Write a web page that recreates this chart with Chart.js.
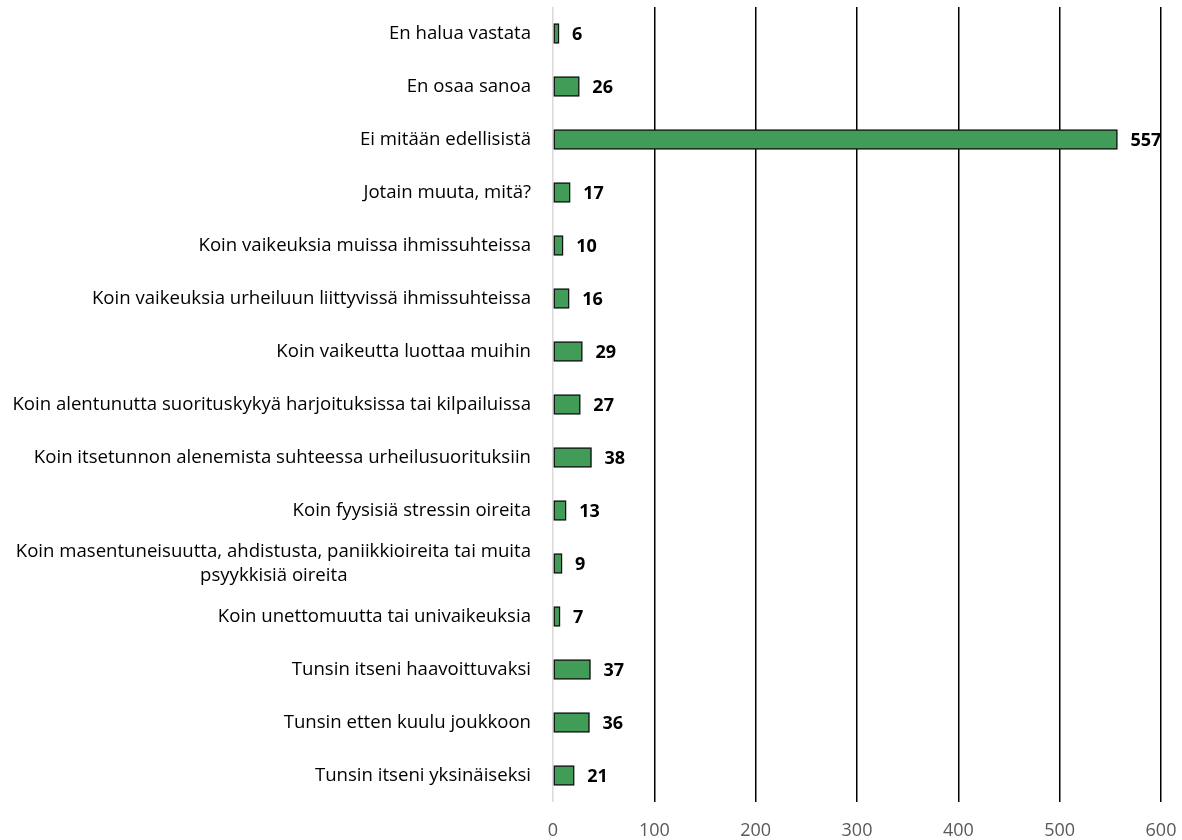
<!DOCTYPE html>
<html>
<head>
<meta charset="utf-8">
<script src="https://cdn.jsdelivr.net/npm/chart.js@4.4.1/dist/chart.umd.min.js"></script>
<style>
    html, body { margin: 0; padding: 0; background: #ffffff; }
    #wrap { width: 1182px; height: 840px; position: relative; }
</style>
</head>
<body>
<div id="wrap"><canvas id="answersChart"></canvas></div>
<script>
const categories = [
    "En halua vastata",
    "En osaa sanoa",
    "Ei mitään edellisistä",
    "Jotain muuta, mitä?",
    "Koin vaikeuksia muissa ihmissuhteissa",
    "Koin vaikeuksia urheiluun liittyvissä ihmissuhteissa",
    "Koin vaikeutta luottaa muihin",
    "Koin alentunutta suorituskykyä harjoituksissa tai kilpailuissa",
    "Koin itsetunnon alenemista suhteessa urheilusuorituksiin",
    "Koin fyysisiä stressin oireita",
    ["Koin masentuneisuutta, ahdistusta, paniikkioireita tai muita", "psyykkisiä oireita"],
    "Koin unettomuutta tai univaikeuksia",
    "Tunsin itseni haavoittuvaksi",
    "Tunsin etten kuulu joukkoon",
    "Tunsin itseni yksinäiseksi"
];
const counts = [6, 26, 557, 17, 10, 16, 29, 27, 38, 13, 9, 7, 37, 36, 21];
const xTicks = [0, 100, 200, 300, 400, 500, 600];

const FONT = "'Open Sans', sans-serif";
const LABEL_SIZE = 18.6;

// wrapped labels: pad the second line so it sits centred under the first (as in Excel)
const measureCtx = document.createElement("canvas").getContext("2d");
measureCtx.font = LABEL_SIZE + "px " + FONT;
const yLabels = categories.map(function (lab) {
    if (!Array.isArray(lab)) return lab;
    const w0 = measureCtx.measureText(lab[0]).width;
    const sp = measureCtx.measureText(" ").width;
    return lab.map(function (line, i) {
        if (i === 0) return line;
        const shift = (w0 - measureCtx.measureText(line).width) / 2;
        return line + " ".repeat(Math.max(0, Math.round(shift / sp)));
    });
});

// bold value next to each bar
const valueLabels = {
    id: "valueLabels",
    afterDatasetsDraw(chart) {
        const ctx = chart.ctx;
        const meta = chart.getDatasetMeta(0);
        ctx.save();
        ctx.font = "bold 18px " + FONT;
        ctx.fillStyle = "#000000";
        ctx.textAlign = "left";
        ctx.textBaseline = "middle";
        meta.data.forEach(function (bar, i) {
            ctx.fillText(String(counts[i]), bar.x + 13, bar.y + 1);
        });
        ctx.restore();
    }
};

new Chart(document.getElementById("answersChart"), {
    type: "bar",
    data: {
        labels: yLabels,
        datasets: [{
            data: counts,
            backgroundColor: "#419c58",
            borderColor: "#111111",
            borderWidth: 1.5,
            borderSkipped: false,
            barThickness: 20
        }]
    },
    options: {
        indexAxis: "y",
        responsive: true,
        maintainAspectRatio: false,
        animation: false,
        layout: { padding: { top: 7, right: 21, bottom: 0, left: 0 } },
        plugins: {
            legend: { display: false },
            tooltip: { enabled: false }
        },
        scales: {
            x: {
                min: 0,
                max: 600,
                afterBuildTicks: function (axis) {
                    axis.ticks = xTicks.map(function (v) { return { value: v }; });
                },
                border: { display: false },
                grid: {
                    drawTicks: false,
                    lineWidth: 1.5,
                    color: function (c) { return c.tick && c.tick.value === 0 ? "#d9d9d9" : "#000000"; }
                },
                ticks: {
                    color: "#595959",
                    padding: 18,
                    font: { family: FONT, size: 18 }
                },
                afterFit: function (axis) {
                    axis.height = 38;
                    axis.paddingLeft = 0;
                    axis.paddingRight = 0;
                }
            },
            y: {
                border: { display: false },
                grid: { display: false, drawTicks: false },
                ticks: {
                    color: "#000000",
                    padding: 22,
                    autoSkip: false,
                    font: { family: FONT, size: LABEL_SIZE, lineHeight: 1.28 }
                },
                afterFit: function (axis) {
                    axis.width = 553;
                    axis.paddingTop = 0;
                    axis.paddingBottom = 0;
                }
            }
        }
    },
    plugins: [valueLabels]
});
</script>
</body>
</html>
